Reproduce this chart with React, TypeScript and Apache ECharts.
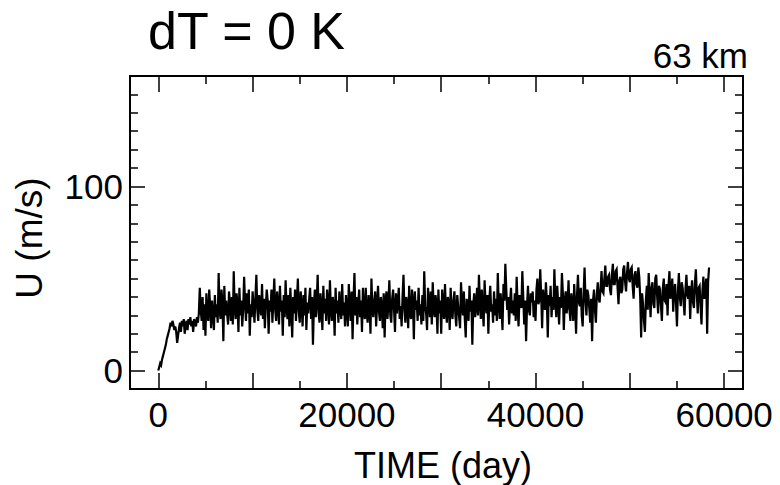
import React, { useEffect, useRef } from "react";
import * as echarts from "echarts";

const TIME_STEP = 100; // days between samples
const U_VALUES: number[] = [
  0, 2, 4, 3, 6, 8, 10, 12, 14, 17, 19, 21, 23, 26, 24, 27, 25, 22, 24, 21,
  15, 19, 23, 26, 21, 27, 24, 28, 20, 25, 27, 22, 28, 25, 29, 24, 27, 21, 28, 26,
  24, 29, 26, 31, 45, 33, 27, 40, 22, 36, 19, 42, 30, 27, 44, 35, 23, 38, 31, 22,
  41, 29, 36, 26, 53, 33, 28, 44, 37, 16, 46, 30, 38, 31, 25, 43, 36, 27, 40, 25,
  54, 34, 28, 42, 36, 21, 45, 30, 38, 24, 33, 51, 37, 27, 42, 31, 44, 19, 36, 29,
  43, 35, 26, 40, 52, 33, 27, 41, 36, 30, 47, 28, 39, 23, 35, 44, 38, 20, 38, 32,
  44, 26, 38, 50, 33, 27, 43, 36, 25, 46, 32, 38, 19, 41, 29, 49, 34, 28, 41, 24,
  45, 34, 18, 40, 31, 44, 27, 38, 50, 32, 26, 43, 35, 24, 41, 30, 45, 22, 37, 31,
  39, 45, 28, 40, 14, 35, 44, 29, 37, 52, 31, 26, 42, 34, 22, 46, 31, 39, 27, 44,
  36, 25, 49, 33, 27, 40, 35, 19, 45, 31, 38, 26, 43, 34, 28, 47, 30, 37, 24, 41,
  33, 24, 47, 36, 27, 43, 17, 38, 53, 30, 40, 25, 36, 44, 29, 38, 21, 45, 33, 28,
  45, 31, 26, 41, 36, 20, 50, 34, 29, 38, 43, 24, 36, 46, 32, 27, 40, 35, 23, 42,
  18, 38, 43, 28, 36, 49, 30, 26, 39, 44, 33, 21, 42, 31, 37, 45, 28, 35, 24, 40,
  52, 33, 26, 40, 35, 23, 46, 31, 28, 44, 37, 17, 43, 33, 38, 27, 45, 30, 36, 25,
  41, 27, 54, 35, 31, 22, 45, 38, 29, 43, 25, 48, 34, 29, 41, 36, 20, 44, 31, 38,
  20, 44, 35, 28, 47, 32, 26, 40, 37, 22, 45, 33, 28, 38, 43, 30, 24, 41, 35, 29,
  23, 48, 36, 30, 43, 28, 18, 39, 34, 27, 46, 32, 38, 14, 36, 42, 29, 35, 45, 30,
  52, 37, 28, 44, 33, 24, 49, 36, 31, 41, 20, 38, 46, 32, 36, 26, 43, 30, 39, 27,
  53, 36, 28, 42, 33, 22, 47, 38, 58, 44, 33, 40, 25, 37, 45, 31, 38, 30, 42, 27,
  51, 35, 24, 41, 36, 34, 54, 40, 25, 38, 16, 35, 46, 33, 30, 42, 37, 43, 29, 38,
  27, 44, 50, 36, 38, 55, 41, 23, 44, 37, 33, 48, 38, 18, 41, 35, 46, 29, 40, 33,
  55, 38, 29, 46, 37, 25, 40, 34, 53, 42, 22, 38, 43, 31, 36, 49, 33, 27, 42, 36,
  27, 47, 35, 20, 41, 52, 37, 35, 45, 30, 24, 42, 56, 38, 30, 44, 41, 34, 26, 39,
  16, 38, 44, 33, 26, 41, 48, 39, 37, 45, 54, 43, 42, 50, 57, 46, 46, 51, 52, 44,
  41, 52, 58, 47, 47, 54, 55, 45, 36, 49, 51, 42, 44, 55, 57, 48, 43, 53, 59, 50,
  48, 55, 56, 46, 39, 52, 54, 47, 45, 56, 51, 40, 18, 42, 36, 27, 21, 38, 46, 33,
  53, 41, 29, 45, 48, 36, 34, 50, 52, 40, 31, 46, 44, 35, 27, 45, 50, 38, 37, 47,
  30, 46, 54, 39, 41, 50, 32, 44, 47, 36, 24, 43, 53, 40, 35, 48, 45, 37, 30, 44,
  52, 41, 39, 46, 28, 42, 49, 37, 34, 47, 55, 42, 31, 45, 46, 35, 25, 43, 51, 39,
  44, 50, 20, 48, 56,
];

const X_MIN = -3000;
const X_MAX = 62000;
const Y_MIN = -10;
const Y_MAX = 160;
const X_MAJOR_TICKS = [0, 10000, 20000, 30000, 40000, 50000, 60000];
const X_MINOR_TICKS = [5000, 15000, 25000, 35000, 45000, 55000];
const X_LABELS = [0, 20000, 40000, 60000];
const Y_MAJOR_TICKS = [0, 100];
const Y_MINOR_TICKS = [10, 20, 30, 40, 50, 60, 70, 80, 90, 110, 120, 130, 140, 150];
const Y_LABELS = [0, 100];

const TITLE = "dT = 0 K";
const SUBTITLE = "63 km";
const X_NAME = "TIME (day)";
const Y_NAME = "U (m/s)";

const FONT = "'Liberation Sans', Arial, Helvetica, sans-serif";

export default function App() {
  const ref = useRef<HTMLDivElement>(null);
  useEffect(() => {
    if (!ref.current) return;
    const chart = echarts.init(ref.current, undefined, { renderer: "svg" });
    const data = U_VALUES.map((v, i) => [i * TIME_STEP, v]);

    const xAx = (position: string, ticks: number[], len: number, labels: number[] | null) => ({
      type: "value",
      gridIndex: 0,
      position,
      offset: 0,
      min: X_MIN,
      max: X_MAX,
      axisLine: { show: false, onZero: false },
      splitLine: { show: false },
      axisTick: {
        show: true,
        inside: true,
        length: len,
        customValues: ticks,
        lineStyle: { color: "#000", width: 1.5 },
      },
      axisLabel: labels
        ? {
            show: true,
            customValues: labels,
            color: "#000",
            fontSize: 35,
            fontFamily: FONT,
            margin: 8,
            formatter: (v: number) => String(v),
          }
        : { show: false },
    });
    const yAx = (position: string, ticks: number[], len: number, labels: number[] | null) => ({
      type: "value",
      gridIndex: 0,
      position,
      offset: 0,
      min: Y_MIN,
      max: Y_MAX,
      axisLine: { show: false, onZero: false },
      splitLine: { show: false },
      axisTick: {
        show: true,
        inside: true,
        length: len,
        customValues: ticks,
        lineStyle: { color: "#000", width: 1.5 },
      },
      axisLabel: labels
        ? {
            show: true,
            customValues: labels,
            color: "#000",
            fontSize: 35,
            fontFamily: FONT,
            margin: 7,
            formatter: (v: number) => String(v),
          }
        : { show: false },
    });

    chart.setOption({
      animation: false,
      backgroundColor: "#fff",
      grid: {
        left: 130,
        right: 37,
        top: 76,
        bottom: 96,
        show: true,
        borderColor: "#000",
        borderWidth: 2,
        backgroundColor: "transparent",
      },
      xAxis: [
        xAx("bottom", X_MAJOR_TICKS, 16, X_LABELS),
        xAx("bottom", X_MINOR_TICKS, 8, null),
        xAx("top", X_MAJOR_TICKS, 16, null),
        xAx("top", X_MINOR_TICKS, 8, null),
      ],
      yAxis: [
        yAx("left", Y_MAJOR_TICKS, 15, Y_LABELS),
        yAx("left", Y_MINOR_TICKS, 8, null),
        yAx("right", Y_MAJOR_TICKS, 15, null),
        yAx("right", Y_MINOR_TICKS, 8, null),
      ],
      series: [
        {
          type: "line",
          xAxisIndex: 0,
          yAxisIndex: 0,
          data,
          showSymbol: false,
          symbol: "none",
          lineStyle: { color: "#000", width: 2.2, join: "miter" },
          silent: true,
        },
      ],
      graphic: [
        {
          type: "text",
          x: 148,
          y: 31,
          style: {
            text: TITLE,
            fill: "#000",
            font: `52px ${FONT}`,
            align: "left",
            verticalAlign: "middle",
          },
        },
        {
          type: "text",
          x: 748,
          y: 55,
          style: {
            text: SUBTITLE,
            fill: "#000",
            font: `35px ${FONT}`,
            align: "right",
            verticalAlign: "middle",
          },
        },
        {
          type: "text",
          x: 443,
          y: 465,
          style: {
            text: X_NAME,
            fill: "#000",
            font: `36px ${FONT}`,
            align: "center",
            verticalAlign: "middle",
          },
        },
        {
          type: "text",
          x: 29,
          y: 238,
          rotation: Math.PI / 2,
          style: {
            text: Y_NAME,
            fill: "#000",
            font: `37px ${FONT}`,
            align: "center",
            verticalAlign: "middle",
          },
        },
      ],
    });
    return () => chart.dispose();
  }, []);
  return (
    <div
      ref={ref}
      style={{ position: "absolute", left: 0, top: 0, width: 780, height: 485 }}
    />
  );
}
